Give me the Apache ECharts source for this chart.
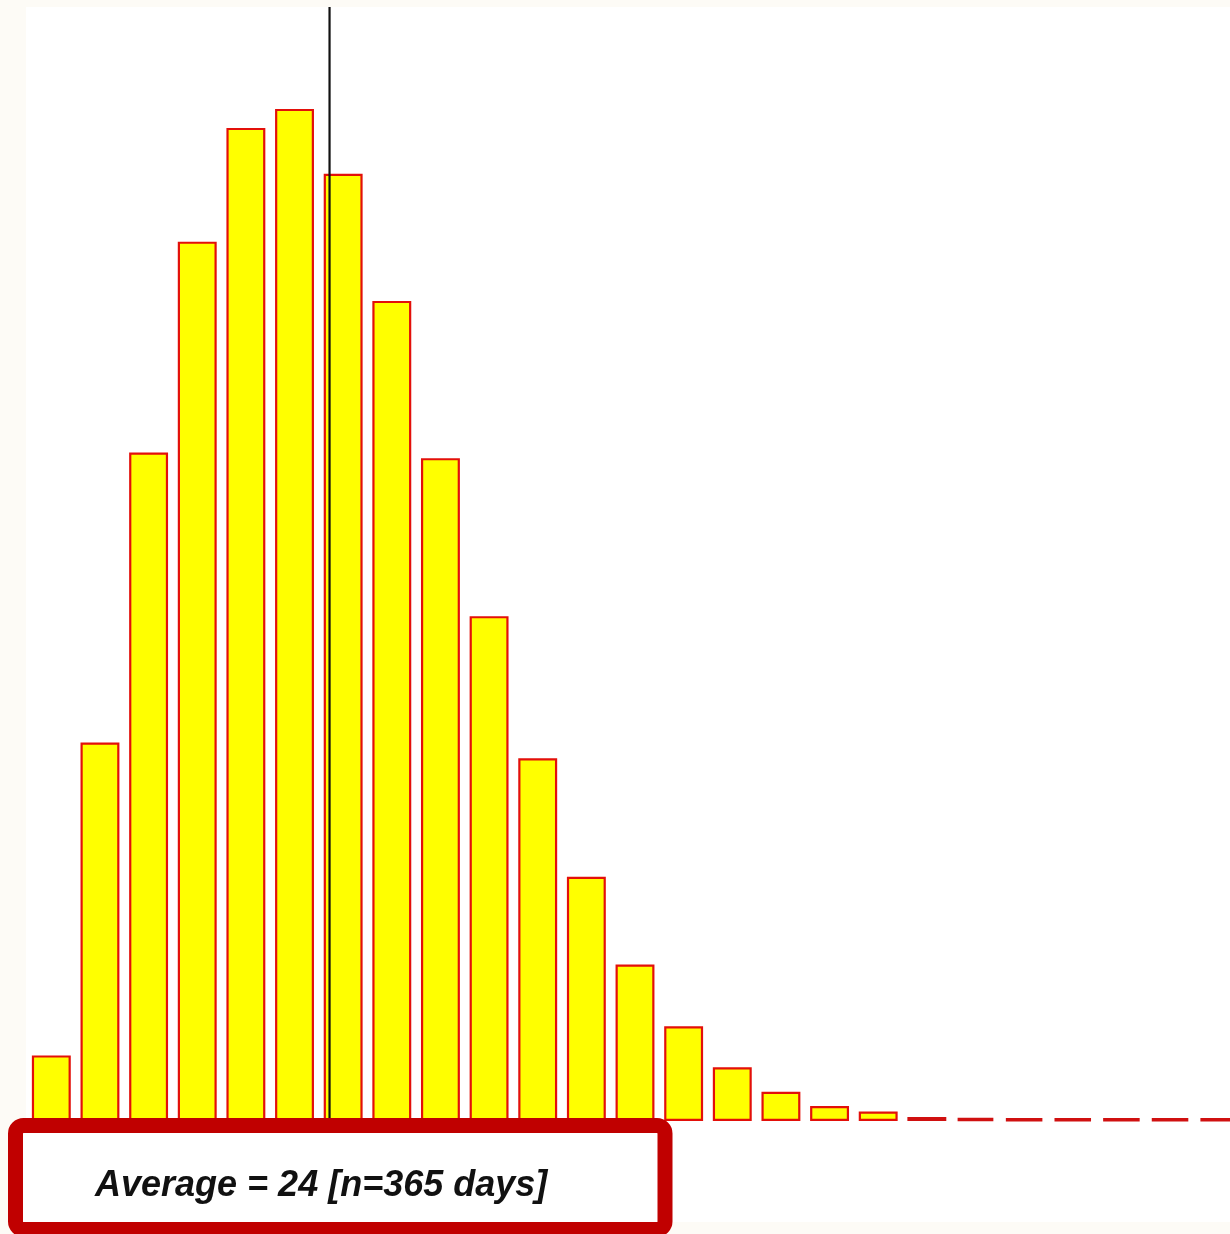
<!DOCTYPE html>
<html>
<head>
<meta charset="utf-8">
<script src="https://cdn.jsdelivr.net/npm/echarts@6/dist/echarts.min.js"></script>
<style>
html,body{margin:0;padding:0;background:#fdfbf6;}
#chart{width:1230px;height:1234px;}
</style>
</head>
<body>
<div id="chart"></div>
<script>
// Histogram bins (index of bin) and their relative frequencies (%)
const bins = ['1','2','3','4','5','6','7','8','9','10','11','12','13','14','15','16','17','18','19','20','21','22','23','24','25'];
const freq = [0.83, 4.79, 8.46, 11.13, 12.57, 12.81, 11.99, 10.38, 8.39, 6.39, 4.59, 3.09, 1.98, 1.20, 0.68, 0.37, 0.19, 0.12, 0.05, 0.04, 0.03, 0.03, 0.03, 0.03, 0.03];
// Position of the average, in bin units along the axis
const averageBinPos = 6.22;
const averageLabel = 'Average = 24 [n=365 days]';

const chart = echarts.init(document.getElementById('chart'));
const yMax = 14.1;
const barData = freq.map(v => v < 0.1
  ? { value: v, itemStyle: { borderWidth: 3.5, borderColor: '#d01010' } }
  : v);
chart.setOption({
  backgroundColor: '#fdfbf6',
  animation: false,
  grid: { left: 27, width: 1216, top: 7, bottom: 113, containLabel: false, outerBoundsMode: 'none' },
  xAxis: [
    { type: 'category', data: bins, show: false, boundaryGap: true },
    { type: 'value', min: 0, max: bins.length, show: false }
  ],
  yAxis: { type: 'value', min: 0, max: yMax, show: false, splitLine: { show: false } },
  graphic: [
    { type: 'rect', z: -10, silent: true,
      shape: { x: 26, y: 7, width: 1210, height: 1215 },
      style: { fill: '#ffffff' } },
    { type: 'rect', z: 100, silent: true,
      shape: { x: 15.5, y: 1125.5, width: 649.5, height: 104, r: 8 },
      style: { fill: '#ffffff', stroke: '#c00000', lineWidth: 15 } },
    { type: 'text', z: 101, silent: true,
      style: { x: 95, y: 1186, text: averageLabel, fill: '#111111',
        font: 'italic bold 36px "Liberation Sans", Arial, sans-serif',
        textAlign: 'left', textVerticalAlign: 'middle' } }
  ],
  series: [
    {
      type: 'bar', data: barData, xAxisIndex: 0, barCategoryGap: '20%',
      itemStyle: { color: '#ffff00', borderColor: '#e3100a', borderWidth: 2.2 },
      z: 2
    },
    {
      type: 'line', xAxisIndex: 1, symbol: 'none', z: 5,
      data: [[averageBinPos, 0], [averageBinPos, yMax]],
      lineStyle: { color: '#111111', width: 2.2 }
    }
  ]
});
</script>
</body>
</html>
